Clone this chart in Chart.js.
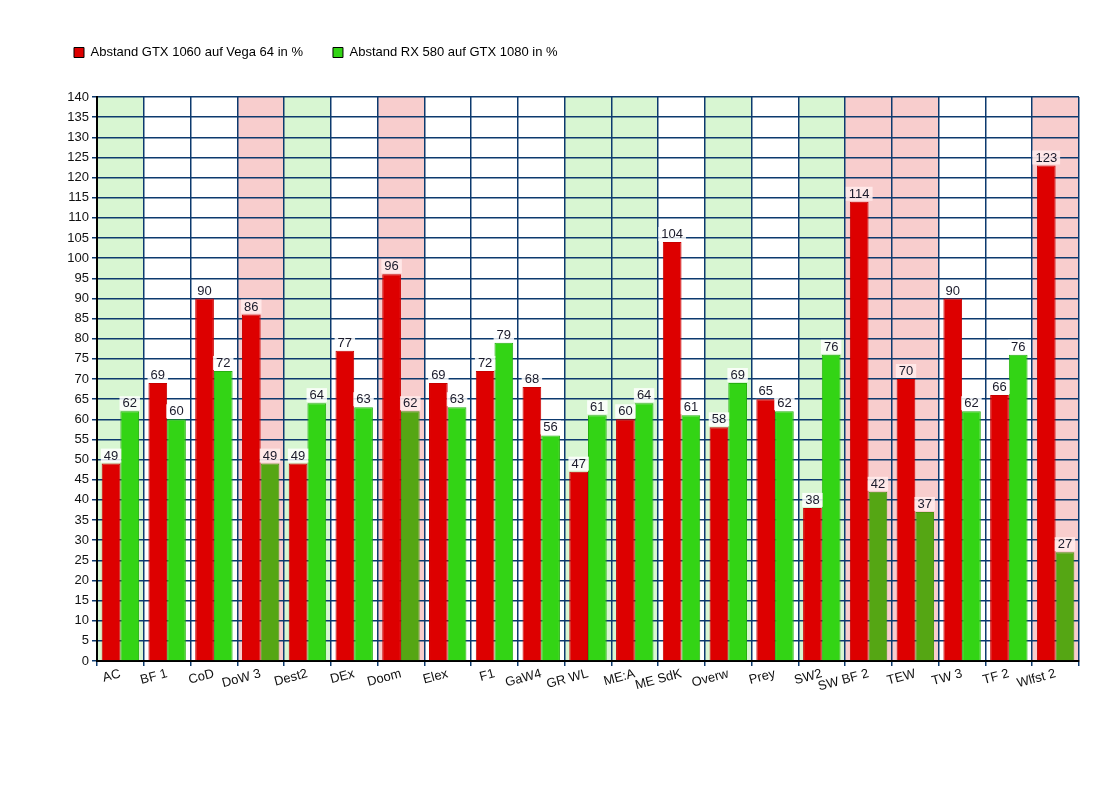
<!DOCTYPE html>
<html>
<head>
<meta charset="utf-8">
<script src="https://cdn.jsdelivr.net/npm/chart.js@4.4.1/dist/chart.umd.min.js"></script>
<style>
  body { margin: 0; background: #fff; }
  #wrap { width: 1095px; height: 805px; }
</style>
</head>
<body>
<div id="wrap"><canvas id="myChart" width="1095" height="805"></canvas></div>
<script>
var games = ["AC", "BF 1", "CoD", "DoW 3", "Dest2", "DEx", "Doom", "Elex", "F1", "GaW4", "GR WL",
             "ME:A", "ME SdK", "Overw", "Prey", "SW2", "SW BF 2", "TEW", "TW 3", "TF 2", "Wlfst 2"];
var gtx1060 = [49, 69, 90, 86, 49, 77, 96, 69, 72, 68, 47, 60, 104, 58, 65, 38, 114, 70, 90, 66, 123];
var rx580   = [62, 60, 72, 49, 64, 63, 62, 63, 79, 56, 61, 64, 61, 69, 62, 76, 42, 37, 62, 76, 27];
// band marking per game: g = green, r = red, w = none
var marks   = ["g", "w", "w", "r", "g", "w", "r", "w", "w", "w", "g", "g", "w", "g", "w", "g", "r", "r", "w", "w", "r"];

var bandColor = { g: '#d8f6d2', r: '#f8cdcd', w: '#ffffff' };
var greenBars = marks.map(function(m){ return m == 'r' ? '#55a614' : '#33d415'; });
var greenBorders = marks.map(function(m){ return m == 'r' ? '#4a9312' : '#26b010'; });

var FONT = 'Liberation Sans, Arial, sans-serif';
Chart.defaults.font.family = FONT;
Chart.defaults.font.size = 13;
Chart.defaults.color = '#111';

var bands = {
    id: 'bands',
    beforeDraw: function(chart){
        var c = chart.ctx, a = chart.chartArea;
        var w = (a.right - a.left) / games.length;
        c.save();
        for (var i = 0; i < games.length; i++) {
            c.fillStyle = bandColor[marks[i]];
            c.fillRect(a.left + i * w, a.top, w, a.bottom - a.top);
        }
        c.restore();
    }
};

var valueLabels = {
    id: 'valueLabels',
    afterDatasetsDraw: function(chart){
        var c = chart.ctx;
        c.save();
        c.font = '13px ' + FONT;
        c.textAlign = 'center';
        c.textBaseline = 'bottom';
        chart.data.datasets.forEach(function(ds, di){
            chart.getDatasetMeta(di).data.forEach(function(bar, i){
                var t = String(ds.data[i]);
                var tw = c.measureText(t).width;
                var bg = marks[i] == 'r' ? 'rgba(255,235,235,0.9)' : 'rgba(255,255,255,0.85)';
                c.fillStyle = bg;
                c.fillRect(bar.x - tw / 2 - 3, bar.y - 15, tw + 6, 14);
                c.fillStyle = '#1a1a2a';
                c.fillText(t, bar.x, bar.y - 1);
            });
        });
        c.restore();
    }
};

var ctx = document.getElementById("myChart").getContext('2d');
var myChart = new Chart(ctx, {
    type: 'bar',
    data: {
        labels: games,
        datasets: [{
            label: 'Abstand GTX 1060 auf Vega 64 in %',
            data: gtx1060,
            backgroundColor: '#dd0000',
            borderColor: '#c80000',
            borderWidth: 1,
            categoryPercentage: 0.8,
            barPercentage: 1
        }, {
            label: 'Abstand RX 580 auf GTX 1080 in %',
            data: rx580,
            backgroundColor: greenBars,
            borderColor: greenBorders,
            borderWidth: 1,
            categoryPercentage: 0.8,
            barPercentage: 1
        }]
    },
    options: {
        responsive: false,
        animation: false,
        layout: { padding: { left: 44, right: 16, top: 16, bottom: 0 } },
        plugins: {
            tooltip: { enabled: false },
            // empty title only used as a spacer between legend and plot
            title: { display: true, text: '', font: { size: 10 }, padding: { top: 3, bottom: 13 } },
            legend: {
                align: 'start',
                weight: 3000,
                labels: {
                    boxWidth: 10,
                    boxHeight: 10,
                    padding: 30,
                    font: { size: 13 },
                    color: '#111',
                    generateLabels: function(chart){
                        return [
                            { text: chart.data.datasets[0].label, fillStyle: '#dd0000', strokeStyle: '#000', lineWidth: 1, datasetIndex: 0 },
                            { text: chart.data.datasets[1].label, fillStyle: '#33d415', strokeStyle: '#000', lineWidth: 1, datasetIndex: 1 }
                        ];
                    }
                }
            }
        },
        scales: {
            x: {
                offset: true,
                grid: { offset: true, color: '#0d3a6e', lineWidth: 1.5, tickLength: 5 },
                border: { color: '#000', width: 2 },
                ticks: { minRotation: 15, maxRotation: 15, autoSkip: false, padding: 0, color: '#111', font: { size: 13 } },
                afterFit: function(s){ s.height = 144; }
            },
            y: {
                min: 0,
                max: 140,
                ticks: { stepSize: 5, color: '#111', font: { size: 13 }, padding: 3 },
                grid: { color: '#0d3a6e', lineWidth: 1.5, tickLength: 5 },
                border: { color: '#000', width: 2 },
                afterFit: function(s){ s.width = 53; }
            }
        }
    },
    plugins: [bands, valueLabels]
});
</script>
</body>
</html>
